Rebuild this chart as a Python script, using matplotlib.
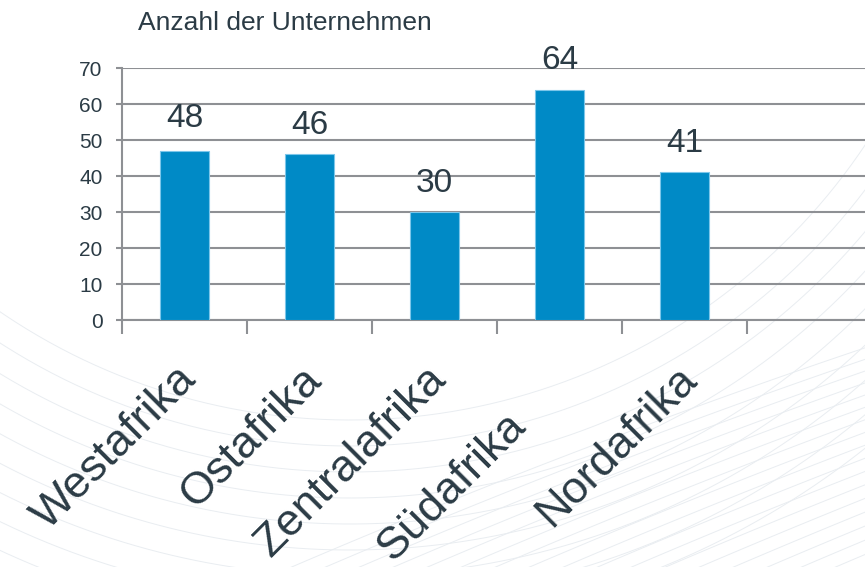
import numpy as np
import matplotlib
matplotlib.use('Agg')
import matplotlib.pyplot as plt

####################################################################################

categories   = ['Westafrika', 'Ostafrika', 'Zentralafrika', 'Südafrika', 'Nordafrika']
bar_values   = [47, 46, 30, 64, 41]
label_values = [48, 46, 30, 64, 41]
y_ticks      = [0, 10, 20, 30, 40, 50, 60, 70]
axis_title   = 'Anzahl der Unternehmen'

####################################################################################

FIG_W, FIG_H = 865, 567
DPI = 100

BAR_RGB   = '#008AC6'
EDGE_RGB  = '#7CC6EA'
TEXT_RGB  = '#2B3B45'
GRID_RGB  = '#8E9094'
DECO_RGB  = '#E9EDF1'

plt.rcParams['font.family'] = ['Liberation Sans', 'DejaVu Sans']

figure = plt.figure(figsize=(FIG_W / DPI, FIG_H / DPI), dpi=DPI, facecolor='white')

# faint decorative swooshes in the background (pixel coordinates)
bg = figure.add_axes([0, 0, 1, 1], zorder=0)
bg.set_xlim(0, FIG_W)
bg.set_ylim(FIG_H, 0)
bg.axis('off')
t = np.linspace(0, np.pi, 600)
for r in np.arange(620, 830, 26):
    bg.plot(350 + r * np.cos(t), -200 + r * np.sin(t), color=DECO_RGB, lw=0.7)
for k in range(18):
    x0 = 280 + k * 34
    xs = np.linspace(x0, FIG_W + 50, 100)
    ys = FIG_H + 5 - 0.43 * (xs - x0) + 0.00008 * (xs - x0) ** 2
    bg.plot(xs, ys, color=DECO_RGB, lw=0.7)

# main chart
axes = figure.add_axes([122 / FIG_W, 1 - 320 / FIG_H, 750 / FIG_W, 252 / FIG_H], zorder=1)
axes.set_facecolor('none')

x = np.arange(len(categories))
axes.bar(x, bar_values, width=0.39, color=BAR_RGB, edgecolor=EDGE_RGB, linewidth=0.8, zorder=3)

axes.set_xlim(-0.5, len(categories) + 0.5)
axes.set_ylim(0, 70)
axes.set_yticks(y_ticks)
axes.set_xticks(np.arange(-0.5, len(categories) + 0.5, 1.0))
axes.set_xticklabels([])
axes.grid(axis='y', color=GRID_RGB, linewidth=1.5, zorder=0)
axes.set_axisbelow(True)

for side in ['top', 'right']:
    axes.spines[side].set_visible(False)
for side in ['left', 'bottom']:
    axes.spines[side].set_color(GRID_RGB)
    axes.spines[side].set_linewidth(1.5)

axes.tick_params(axis='y', length=4, width=1.5, color=GRID_RGB, labelsize=15,
                 labelcolor=TEXT_RGB, pad=10)
axes.tick_params(axis='x', length=10, width=1.5, color=GRID_RGB)

# value labels above the bars
for i, v in enumerate(label_values):
    axes.text(i, v + 5.6, str(v), ha='center', va='baseline', fontsize=24,
              color=TEXT_RGB, zorder=4)

# rotated category labels (Südafrika sits a bit lower in the original)
label_shift = [(0, 0), (0, 0), (0, 0), (-33, -33), (0, 0)]
for i, name in enumerate(categories):
    dx, dy = label_shift[i]
    axes.annotate(name, xy=(i, 0), xycoords=('data', 'axes fraction'),
                  xytext=(4 + dx, -38 + dy), textcoords='offset points',
                  rotation=45, rotation_mode='anchor', ha='right', va='center',
                  fontsize=32.5, color=TEXT_RGB, annotation_clip=False)

figure.text(138 / FIG_W, 1 - 30 / FIG_H, axis_title, ha='left', va='baseline',
            fontsize=19, color=TEXT_RGB)

plt.savefig('out.png', dpi=DPI, facecolor='white')
